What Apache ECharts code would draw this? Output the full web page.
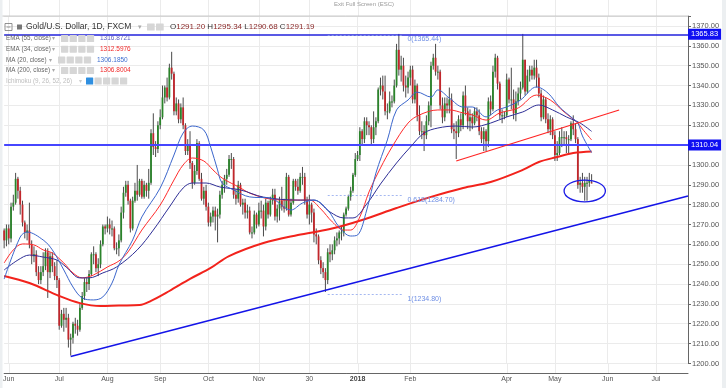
<!DOCTYPE html>
<html><head><meta charset="utf-8">
<script src="https://cdn.jsdelivr.net/npm/echarts@6/dist/echarts.min.js"></script>
<style>html,body{margin:0;padding:0;background:#fff}#c{width:726px;height:388px}</style>
</head><body><div id="c"></div>
<script>
// ---------------- DATA ----------------
const firstDay = '2017-05-30';          // first trading day on the axis (weekdays only)
const categoryCount = 299;              // trading-day slots shown on the axis
const tickLabels = [
  ['2017-06-01','Jun'],['2017-07-03','Jul'],['2017-08-01','Aug'],['2017-09-01','Sep'],
  ['2017-10-02','Oct'],['2017-11-01','Nov'],['2017-12-01','30'],['2018-01-01','2018'],
  ['2018-02-01','Feb'],['2018-04-02','Apr'],['2018-05-01','May'],['2018-06-01','Jun'],['2018-07-02','Jul']
];
// daily candles [open, close, low, high], one per trading day from firstDay
const candles = [
[1267,1262,1258,1268],[1262,1268,1259,1270],[1268,1263,1260,1270],[1263,1279,1261,1281],[1279,1281,1277,1285],
[1281,1293,1280,1296],[1293,1287,1283,1294],[1287,1280,1275,1289],[1280,1271,1269,1282],[1271,1266,1263,1272],
[1266,1267,1262,1270],[1267,1260,1258,1281],[1260,1254,1250,1262],[1254,1255,1251,1259],[1255,1246,1244,1257],
[1246,1242,1240,1249],[1242,1246,1240,1249],[1246,1249,1244,1256],[1249,1256,1247,1258],[1256,1246,1233,1258],
[1246,1254,1243,1256],[1254,1249,1246,1256],[1249,1244,1242,1251],[1244,1242,1238,1252],[1242,1219,1217,1243],
[1219,1225,1218,1227],[1225,1222,1216,1228],[1222,1223,1218,1228],[1223,1212,1208,1225],[1212,1213,1204,1215],
[1213,1220,1210,1221],[1220,1219,1215,1223],[1219,1217,1214,1222],[1217,1228,1216,1230],[1228,1234,1227,1236],
[1234,1241,1232,1243],[1241,1240,1236,1243],[1240,1245,1237,1247],[1245,1255,1244,1256],[1255,1255,1250,1259],
[1255,1248,1246,1256],[1248,1250,1244,1253],[1250,1260,1248,1262],[1260,1269,1259,1270],[1269,1268,1265,1270],
[1268,1270,1266,1274],[1270,1268,1265,1273],[1268,1268,1264,1272],[1268,1258,1257,1269],[1258,1258,1255,1261],
[1258,1262,1254,1265],[1262,1276,1261,1279],[1276,1286,1273,1289],[1286,1290,1284,1292],[1290,1282,1280,1292],
[1282,1268,1266,1283],[1268,1282,1267,1284],[1282,1287,1281,1291],[1287,1285,1282,1300],[1285,1292,1284,1293],
[1292,1284,1283,1293],[1284,1290,1283,1292],[1290,1287,1284,1291],[1287,1291,1283,1298],[1291,1316,1290,1318],
[1316,1309,1305,1326],[1309,1308,1304,1312],[1308,1320,1306,1322],[1320,1324,1318,1328],[1324,1334,1323,1340],
[1334,1339,1331,1340],[1339,1334,1332,1344],[1334,1349,1333,1351],[1349,1346,1343,1357],[1346,1327,1325,1347],
[1327,1331,1325,1334],[1331,1323,1321,1333],[1323,1329,1321,1331],[1329,1320,1318,1334],[1320,1307,1305,1321],
[1307,1310,1305,1313],[1310,1301,1298,1317],[1301,1291,1288,1302],[1291,1297,1290,1300],[1297,1311,1295,1313],
[1311,1293,1292,1312],[1293,1283,1282,1296],[1283,1287,1280,1289],[1287,1279,1277,1290],[1279,1271,1269,1281],
[1271,1274,1269,1276],[1274,1277,1271,1279],[1277,1274,1267,1279],[1274,1275,1261,1278],[1275,1285,1273,1287],
[1285,1290,1283,1292],[1290,1293,1286,1295],[1293,1295,1290,1298],[1295,1303,1294,1305],[1303,1303,1298,1306],
[1303,1285,1283,1304],[1285,1283,1280,1288],[1283,1290,1281,1292],[1290,1280,1279,1291],[1280,1281,1275,1283],
[1281,1276,1273,1283],[1276,1277,1273,1280],[1277,1266,1265,1279],[1266,1266,1263,1269],[1266,1275,1265,1277],
[1275,1270,1268,1276],[1270,1277,1269,1281],[1277,1277,1273,1282],[1277,1269,1264,1280],[1269,1281,1267,1283],
[1281,1275,1273,1282],[1275,1282,1274,1284],[1282,1285,1280,1288],[1285,1274,1272,1288],[1274,1278,1271,1280],
[1278,1282,1272,1284],[1282,1279,1277,1289],[1279,1278,1276,1283],[1278,1294,1277,1296],[1294,1275,1274,1295],
[1275,1281,1274,1283],[1281,1292,1280,1293],[1292,1289,1287,1293],[1289,1287,1285,1293],[1287,1294,1286,1296],
[1294,1294,1290,1299],[1294,1282,1280,1296],[1282,1275,1273,1284],[1275,1280,1270,1285],[1280,1276,1271,1281],
[1276,1265,1261,1278],[1265,1264,1260,1268],[1264,1252,1250,1265],[1252,1248,1245,1254],[1248,1246,1243,1251],
[1246,1242,1236,1248],[1242,1256,1240,1258],[1256,1255,1251,1260],[1255,1257,1252,1260],[1257,1262,1255,1264],
[1262,1263,1259,1266],[1263,1266,1260,1267],[1266,1266,1262,1269],[1266,1275,1264,1276],[1275,1278,1274,1279],
[1278,1284,1277,1285],[1284,1287,1282,1289],[1287,1295,1286,1296],[1295,1303,1294,1306],[1303,1305,1302,1307],
[1305,1317,1302,1319],[1317,1313,1310,1318],[1313,1322,1311,1324],[1322,1320,1315,1324],[1320,1319,1315,1322],
[1319,1313,1310,1320],[1313,1319,1311,1327],[1319,1322,1315,1324],[1322,1338,1321,1339],[1338,1340,1335,1344],
[1340,1337,1333,1345],[1337,1327,1325,1345],[1327,1327,1323,1331],[1327,1332,1326,1337],[1332,1332,1329,1335],
[1332,1340,1331,1343],[1340,1358,1339,1361],[1358,1348,1345,1366],[1348,1350,1342,1355],[1350,1340,1337,1354],
[1340,1339,1334,1345],[1339,1344,1336,1347],[1344,1348,1340,1350],[1348,1333,1331,1350],[1333,1340,1331,1343],
[1340,1325,1322,1341],[1325,1317,1315,1330],[1317,1317,1313,1322],[1317,1315,1307,1320],[1315,1322,1313,1325],
[1322,1330,1320,1332],[1330,1350,1319,1352],[1350,1354,1348,1356],[1354,1347,1345,1361],[1347,1347,1343,1350],
[1347,1330,1328,1348],[1330,1324,1321,1334],[1324,1331,1322,1334],[1331,1330,1326,1334],[1330,1333,1326,1339],
[1333,1318,1316,1336],[1318,1317,1313,1321],[1317,1316,1303,1322],[1316,1323,1314,1325],[1323,1320,1317,1326],
[1320,1335,1318,1337],[1335,1327,1325,1340],[1327,1322,1318,1329],[1322,1324,1317,1328],[1324,1321,1318,1326],
[1321,1327,1320,1329],[1327,1325,1322,1329],[1325,1317,1315,1328],[1317,1313,1311,1319],[1313,1317,1307,1319],
[1317,1312,1307,1318],[1312,1332,1309,1334],[1332,1328,1325,1335],[1328,1347,1327,1350],[1347,1354,1344,1356],
[1354,1341,1338,1355],[1341,1325,1323,1342],[1325,1325,1321,1328],[1325,1325,1323,1327],[1325,1343,1324,1346],
[1343,1333,1331,1344],[1333,1333,1328,1349],[1333,1326,1323,1338],[1326,1332,1322,1337],[1332,1336,1330,1339],
[1336,1339,1333,1342],[1339,1353,1338,1366],[1353,1337,1335,1353],[1337,1345,1336,1348],[1345,1348,1342,1350],
[1348,1345,1343,1350],[1345,1349,1343,1353],[1349,1344,1339,1353],[1344,1336,1334,1346],[1336,1324,1322,1338],
[1324,1333,1323,1335],[1333,1323,1321,1334],[1323,1318,1316,1326],[1318,1323,1315,1325],[1323,1315,1313,1324],
[1315,1305,1302,1317],[1305,1306,1302,1312],[1306,1314,1305,1317],[1314,1314,1309,1319],[1314,1314,1310,1317],
[1314,1313,1306,1317],[1313,1313,1305,1315],[1313,1321,1312,1322],[1321,1318,1315,1325],[1318,1313,1311,1321],
[1313,1290,1288,1314],[1290,1291,1286,1294],[1291,1289,1286,1296],[1289,1291,1282,1294],[1291,1291,1282,1294],
[1291,1292,1289,1296],[1291.20,1291.19,1290.68,1295.34]
];
// indicator lines: [trading-day index, value]
const ema55 = [[0,1247.1],[6,1252.1],[11,1254.6],[17,1253.6],[23,1252.1],[27,1248.6],[33,1243.1],[37,1243.1],[43,1245.6],[49,1248.6],[58,1257.2],[65,1267.2],[72,1278.8],[78,1288.4],[82,1290.9],[88,1290.9],[94,1288.9],[103,1287.4],[113,1283.8],[128,1282.3],[135,1282.3],[142,1276.3],[148,1273.3],[152,1273.3],[158,1280.3],[164,1290.4],[171,1301],[177,1309],[183,1316.1],[189,1318.6],[197,1319.6],[204,1319.1],[212,1321.1],[219,1324.2],[226,1326.7],[233,1330.2],[239,1327.7],[245,1324.2],[251,1321.1],[256,1316.9]];
const ema34 = [[0,1250.6],[4,1257.2],[8,1260.2],[13,1259.7],[17,1257.2],[21,1255.6],[26,1250.6],[30,1245.6],[34,1243.1],[39,1244.6],[45,1248.6],[50,1251.6],[54,1256.2],[60,1267.2],[68,1279.8],[74,1292.4],[78,1300],[82,1303.5],[87,1302],[91,1297.5],[95,1293.4],[103,1288.4],[107,1285.8],[116,1282.8],[125,1282.3],[133,1282.3],[138,1277.8],[143,1271.3],[148,1267.2],[151,1267.2],[155,1273.8],[159,1286.4],[164,1298.5],[169,1309],[176,1321.1],[181,1325.2],[189,1327.7],[194,1327.7],[200,1326.2],[204,1325.2],[210,1322.6],[216,1326.2],[224,1328.7],[232,1335.2],[238,1332.7],[244,1326.7],[250,1321.1],[252,1318.1],[256,1312.6]];
const ma20 = [[0,1242.5],[7,1263.7],[10,1266.2],[17,1262.2],[21,1257.2],[26,1247.1],[30,1238.5],[34,1233],[39,1232],[43,1233.5],[47,1240.5],[50,1249.6],[56,1262.2],[60,1273.8],[68,1288.4],[74,1305],[78,1316.1],[82,1319.6],[87,1317.6],[90,1309],[93,1297.5],[95,1290.9],[100,1287.4],[107,1283.9],[116,1283.3],[125,1277.3],[130,1280.8],[135,1282.3],[141,1277.3],[146,1268.7],[151,1264.2],[154,1264.7],[158,1277.3],[162,1295.9],[167,1312.6],[171,1327.7],[176,1332.7],[180,1336.7],[186,1334.2],[189,1337.8],[194,1333.7],[200,1329.2],[204,1329.2],[210,1324.2],[215,1327.7],[219,1329.2],[225,1332.7],[232,1339.3],[237,1336.2],[242,1329.2],[247,1324.2],[250,1321.1],[252,1314.6],[256,1306.2]];
const ma200 = [[0,1244.1],[11,1240.5],[24,1234],[33,1230.4],[42,1228.9],[50,1229.2],[59,1229.4],[64,1231.5],[72,1236.5],[81,1242.6],[90,1248.1],[98,1254.1],[113,1260.7],[128,1264.7],[142,1267.7],[156,1272.3],[171,1278.3],[186,1283.9],[200,1288.4],[212,1291.4],[226,1297.5],[233,1301.5],[241,1304],[248,1306],[256,1306.8]];
// drawn annotations, in data coordinates
const supportLine = [[29,1203.5],[298,1284.4]];
const channelLine = [[197,1302],[268,1327.7]];
const hLevels = [1365.83, 1310.04];
const lastPrice = 1291.19;
const fibLevels = [['0(1365.44)',1365.44],['0.618(1284.70)',1284.70],['1(1234.80)',1234.80]];
const fibSpan = [141,174];
const ellipseMark = {center:[253,1286.9], halfBars:9, halfValue:5.5};
const yTicks = {min:1200, max:1375, step:10};
// legend texts
const legendRows = [
  ['EMA (55, close)','1316.8721','#5b5bc4'],
  ['EMA (34, close)','1312.5976','#f02828'],
  ['MA (20, close)','1306.1850','#3f6fd0'],
  ['MA (200, close)','1306.8004','#f02828']
];

// ---------------- BUILD ----------------
const categories = [];
(function(){
  const d = new Date(firstDay + 'T00:00:00Z');
  while (categories.length < categoryCount) {
    const wd = d.getUTCDay();
    if (wd !== 0 && wd !== 6) categories.push(d.toISOString().slice(0,10));
    d.setUTCDate(d.getUTCDate()+1);
  }
})();
const labelMap = {};
tickLabels.forEach(t => labelMap[t[0]] = t[1]);
const FONT = '"Liberation Sans", Arial, sans-serif';

const G = [];
function txt(x, y, s, size, color, extra) {
  G.push({type:'text', x:x, y:y, z:100, silent:true,
    style:Object.assign({text:s, font:size+'px '+FONT, fill:color, verticalAlign:'middle', align:'left'}, extra||{})});
}
function boxes(x0, y, n, step, colors) {
  for (let k=0;k<n;k++) G.push({type:'rect', z:100, silent:true,
    shape:{x:x0+k*step, y:y-3.5, width:step-1.3, height:7, r:0.6}, style:{fill:(colors&&colors[k])||'#d6d6d6'}});
}
// side strips
G.push({type:'rect', z:0, silent:true, shape:{x:722, y:0, width:4, height:388}, style:{fill:'#eceff1'}});
G.push({type:'rect', z:0, silent:true, shape:{x:0, y:0, width:2.5, height:388}, style:{fill:'#eceff1'}});
// top bar text
txt(364, 4.5, 'Exit Full Screen (ESC)', 6, '#9a9a9a', {align:'center'});
// row 1
G.push({type:'rect', z:100, silent:true, shape:{x:5, y:23.5, width:7, height:7}, style:{fill:'none', stroke:'#777', lineWidth:0.8}});
G.push({type:'line', z:100, silent:true, shape:{x1:6.5, y1:27, x2:10.5, y2:27}, style:{stroke:'#777', lineWidth:0.8}});
G.push({type:'rect', z:100, silent:true, shape:{x:17, y:24.5, width:5, height:5}, style:{fill:'#777'}});
txt(26, 27, 'Gold/U.S. Dollar, 1D, FXCM', 8.5, '#333');
txt(138, 27, '▾', 7, '#aaa');
boxes(147, 27, 2, 9);
G.push({type:'text', x:170, y:27, z:100, silent:true, style:{
  text:'{l|O}{v|1291.20} {l|H}{v|1295.34} {l|L}{v|1290.68} {l|C}{v|1291.19}',
  font:'8px '+FONT, verticalAlign:'middle', align:'left',
  rich:{l:{fill:'#333', font:'8px '+FONT}, v:{fill:'#8b2a2a', font:'8px '+FONT}}}});
// indicator rows
const rowY = [38.5, 49.2, 60, 70.6];
legendRows.forEach((r, k) => {
  const y = rowY[k];
  txt(6, y, r[0], 6.3, '#666');
  const short = r[0].length < 15;
  const ax = short ? 49 : 52;
  txt(ax, y, '▾', 6, '#aaa');
  boxes(ax + 9, y, 4, 8.6);
  txt(ax + 48, y, r[1], 6.5, r[2]);
});
txt(6, 81, 'Ichimoku (9, 26, 52, 26)', 6.3, '#bdbdbd');
txt(79, 81, '▾', 6, '#ccc');
boxes(86, 81, 5, 8.5, ['#2f8fe0']);

const option = {
  animation:false,
  backgroundColor:'#ffffff',
  textStyle:{fontFamily:FONT},
  grid:{left:4.15, right:38, top:16.07, bottom:24.55, containLabel:false},
  xAxis:{
    type:'category', data:categories, boundaryGap:false, offset:9.5,
    axisLine:{lineStyle:{color:'#666', width:1}},
    axisTick:{show:false},
    axisLabel:{
      interval:(i, v) => v in labelMap, margin:3, fontSize:7, color:'#555', fontFamily:FONT,
      formatter:(v) => { const s = labelMap[v]; if (!s) return ''; return s === '2018' ? '{b|2018}' : s; },
      rich:{b:{fontWeight:'bold', fontSize:7, color:'#444', fontFamily:FONT}}
    },
    splitLine:{show:true, interval:(i, v) => v in labelMap, lineStyle:{color:'#ebebeb', width:1}}
  },
  yAxis:{
    type:'value', position:'right', min:yTicks.min, max:yTicks.max, interval:yTicks.step,
    axisLine:{show:true, lineStyle:{color:'#666', width:1}},
    axisTick:{show:true, length:3, lineStyle:{color:'#666'}},
    axisLabel:{margin:4, fontSize:7.5, color:'#555', fontFamily:FONT,
      formatter:(v) => (Math.abs(v % 10) < 1e-6 ? v.toFixed(2) : '')},
    splitLine:{lineStyle:{color:'#ebebeb', width:1}}
  },
  graphic:G,
  series:[
    {
      type:'custom', name:'candles', z:3,
      data:candles.map((c, i) => [i, c[0], c[1], c[2], c[3]]),
      encode:{x:0, y:[1,2,3,4]},
      renderItem:(params, api) => {
        const i = api.value(0), o = api.value(1), c = api.value(2), l = api.value(3), h = api.value(4);
        const pO = api.coord([i, o]), pC = api.coord([i, c]), pL = api.coord([i, l]), pH = api.coord([i, h]);
        const x = pO[0];
        const top = Math.min(pO[1], pC[1]), bot = Math.max(pO[1], pC[1]);
        const up = c >= o;
        return {type:'group', children:[
          {type:'line', shape:{x1:x, y1:pH[1], x2:x, y2:pL[1]}, style:{stroke:'#4a4a4a', lineWidth:1}},
          {type:'rect', shape:{x:x-0.9, y:top, width:1.8, height:Math.max(bot-top, 1)},
            style:{fill: up ? '#2b842b' : '#c2262b'}}
        ]};
      }
    },
    {type:'line', name:'MA200', data:ma200, smooth:0.35, symbol:'none', z:4, lineStyle:{color:'#f2231c', width:2}},
    {type:'line', name:'EMA34', data:ema34, smooth:0.35, symbol:'none', z:5, lineStyle:{color:'#ff2a2a', width:1}},
    {type:'line', name:'EMA55', data:ema55, smooth:0.35, symbol:'none', z:5, lineStyle:{color:'#2e2e96', width:1}},
    {type:'line', name:'MA20', data:ma20, smooth:0.35, symbol:'none', z:5, lineStyle:{color:'#3b66cc', width:1}},
    {
      type:'line', name:'support', data:supportLine, symbol:'none', z:6, lineStyle:{color:'#1414e8', width:1.5},
      markLine:{
        symbol:'none', silent:true, animation:false,
        data:[
          {yAxis:hLevels[0], lineStyle:{color:'#2222dd', width:1.5, type:'solid'},
            label:{show:true, position:'end', distance:0, formatter:hLevels[0].toFixed(2), color:'#fff',
              backgroundColor:'#0f0ff2', padding:[2,3,1,3], fontSize:7.5, fontFamily:FONT}},
          {yAxis:hLevels[1], lineStyle:{color:'#4646ff', width:1.8, type:'solid'},
            label:{show:true, position:'end', distance:0, formatter:hLevels[1].toFixed(2), color:'#fff',
              backgroundColor:'#0f0ff2', padding:[2,3,1,3], fontSize:7.5, fontFamily:FONT}},
          {yAxis:lastPrice, lineStyle:{opacity:0},
            label:{show:true, position:'end', distance:0, formatter:lastPrice.toFixed(2), color:'#fff',
              backgroundColor:'#ff0f0f', padding:[2,3,1,3], fontSize:7.5, fontFamily:FONT}}
        ]
      }
    },
    {
      type:'line', name:'channel', data:channelLine, symbol:'none', z:6, lineStyle:{color:'#ff2424', width:1.2},
      markLine:{
        symbol:'none', silent:true, animation:false,
        data:fibLevels.map(f => [
          {coord:[fibSpan[0], f[1]], lineStyle:{color:'#8ea6ee', width:0.8, type:[2,2]},
            label:{show:true, position:'end', distance:4, formatter:'\n' + f[0], color:'#6f8fe4', fontSize:7,
              lineHeight:9, fontFamily:FONT}},
          {coord:[fibSpan[1], f[1]]}
        ])
      }
    }
  ]
};

const chart = echarts.init(document.getElementById('c'), null, {renderer:'canvas', width:726, height:388});
chart.setOption(option);

// annotations positioned through the chart's own scales
const px = (i, v) => chart.convertToPixel({gridIndex:0}, [i, v]);
const c0 = px(ellipseMark.center[0], ellipseMark.center[1]);
const cx1 = px(ellipseMark.center[0] + ellipseMark.halfBars, ellipseMark.center[1]);
const cy1 = px(ellipseMark.center[0], ellipseMark.center[1] + ellipseMark.halfValue);
const topY = px(0, yTicks.max)[1];
const botY = px(0, yTicks.min)[1];
const rightX = px(categoryCount - 1, yTicks.max)[0];
const extra = [
  {type:'ellipse', z:50, silent:true, shape:{cx:c0[0], cy:c0[1], rx:cx1[0]-c0[0], ry:c0[1]-cy1[1]},
    style:{fill:'none', stroke:'#1c1ce6', lineWidth:1.3}},
  {type:'line', z:1, silent:true, shape:{x1:2.5, y1:topY, x2:rightX, y2:topY}, style:{stroke:'#c4c4c4', lineWidth:1}}
];
// extend the month grid lines above the plot top and down to the shifted time axis
categories.forEach((d, i) => {
  if (!(d in labelMap)) return;
  const x = Math.round(px(i, yTicks.min)[0]) + 0.5;
  extra.push({type:'line', z:0, silent:true, shape:{x1:x, y1:0, x2:x, y2:topY}, style:{stroke:'#ebebeb', lineWidth:1}});
  extra.push({type:'line', z:0, silent:true, shape:{x1:x, y1:botY, x2:x, y2:botY + 9.5}, style:{stroke:'#ebebeb', lineWidth:1}});
});
chart.setOption({graphic: G.concat(extra)});
</script>
</body></html>
